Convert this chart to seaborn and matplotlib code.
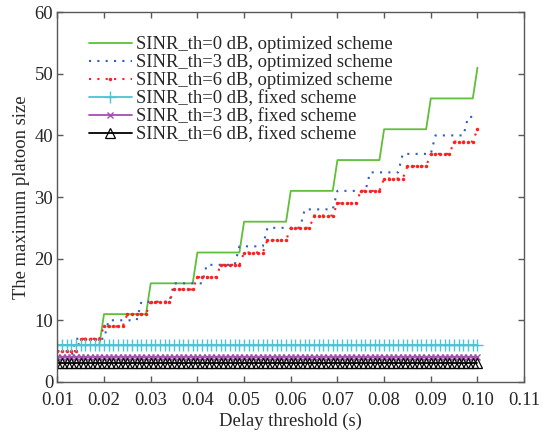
import numpy as np
import matplotlib
matplotlib.use("Agg")
import matplotlib.pyplot as plt
import seaborn as sns

# delay threshold samples (s), one every 1 ms
delay = np.round(np.arange(0.010, 0.1005, 0.001), 3)

opt_0db = [6, 6, 6, 6, 6, 6, 6, 6, 6, 6,
           11, 11, 11, 11, 11, 11, 11, 11, 11, 11,
           16, 16, 16, 16, 16, 16, 16, 16, 16, 16,
           21, 21, 21, 21, 21, 21, 21, 21, 21, 21,
           26, 26, 26, 26, 26, 26, 26, 26, 26, 26,
           31, 31, 31, 31, 31, 31, 31, 31, 31, 31,
           36, 36, 36, 36, 36, 36, 36, 36, 36, 36,
           41, 41, 41, 41, 41, 41, 41, 41, 41, 41,
           46, 46, 46, 46, 46, 46, 46, 46, 46, 46,
           51]

opt_3db = [4, 4, 4, 4, 7, 7, 7, 7, 7, 7,
           7, 10, 10, 10, 10, 10, 10, 10, 13, 13,
           13, 13, 13, 13, 13, 16, 16, 16, 16, 16,
           16, 16, 19, 19, 19, 19, 19, 19, 19, 22,
           22, 22, 22, 22, 22, 25, 25, 25, 25, 25,
           25, 25, 25, 28, 28, 28, 28, 28, 28, 28,
           31, 31, 31, 31, 31, 31, 31, 34, 34, 34,
           34, 34, 34, 34, 37, 37, 37, 37, 37, 37,
           37, 40, 40, 40, 40, 40, 40, 40, 43, 43,
           43]

opt_6db = [5, 5, 5, 5, 5, 7, 7, 7, 7, 7,
           9, 9, 9, 9, 9, 11, 11, 11, 11, 11,
           13, 13, 13, 13, 13, 15, 15, 15, 15, 15,
           17, 17, 17, 17, 17, 19, 19, 19, 19, 19,
           21, 21, 21, 21, 21, 23, 23, 23, 23, 23,
           25, 25, 25, 25, 25, 27, 27, 27, 27, 27,
           29, 29, 29, 29, 29, 31, 31, 31, 31, 31,
           33, 33, 33, 33, 33, 35, 35, 35, 35, 35,
           37, 37, 37, 37, 37, 39, 39, 39, 39, 39,
           41]

fixed_0db = [6] * 91
fixed_3db = [4] * 91
fixed_6db = [3] * 91

x_ticks = [0.01, 0.02, 0.03, 0.04, 0.05, 0.06, 0.07, 0.08, 0.09, 0.10, 0.11]
y_ticks = [0, 10, 20, 30, 40, 50, 60]

sns.set_theme(style="white")
plt.rcParams["font.family"] = ["Liberation Serif", "DejaVu Serif"]

fs = 13.4
fig, ax = plt.subplots(figsize=(5.46, 4.34), dpi=100)
fig.subplots_adjust(left=0.105, right=0.96, top=0.972, bottom=0.12)

sns.lineplot(x=delay, y=opt_0db, ax=ax, color="#5fbf3a", linewidth=1.3,
             label="SINR_th=0 dB, optimized scheme")
sns.lineplot(x=delay, y=opt_3db, ax=ax, color="#2f5fc4", linewidth=1.5,
             linestyle=(0, (1, 3)), label="SINR_th=3 dB, optimized scheme")
sns.lineplot(x=delay, y=opt_6db, ax=ax, color="#ff1f1f", linewidth=1.5,
             linestyle=(0, (1, 3)), marker=".", markersize=5,
             markeredgewidth=0, markeredgecolor="#ff1f1f",
             label="SINR_th=6 dB, optimized scheme")
sns.lineplot(x=delay, y=fixed_0db, ax=ax, color="#4cc4d4", linewidth=1.3,
             marker="+", markersize=8, markeredgewidth=1.0, markeredgecolor="#4cc4d4",
             label="SINR_th=0 dB, fixed scheme")
sns.lineplot(x=delay, y=fixed_3db, ax=ax, color="#a24fb0", linewidth=1.3,
             marker="x", markersize=5, markeredgewidth=1.0, markeredgecolor="#a24fb0",
             label="SINR_th=3 dB, fixed scheme")
sns.lineplot(x=delay, y=fixed_6db, ax=ax, color="black", linewidth=1.3,
             marker="^", markersize=6.5, markerfacecolor="none",
             markeredgewidth=0.9, markeredgecolor="black",
             label="SINR_th=6 dB, fixed scheme")

ax.set_xlim(0.01, 0.11)
ax.set_ylim(0, 60)
ax.set_xticks(x_ticks)
ax.set_xticklabels([f"{t:.2f}" for t in x_ticks])
ax.set_yticks(y_ticks)
ax.set_xlabel("Delay threshold (s)", fontsize=fs, labelpad=3)
ax.set_ylabel("The maximum platoon size", fontsize=fs, labelpad=3)
ax.tick_params(direction="in", length=4, width=1, color="#595959",
               labelcolor="#262626", labelsize=fs,
               bottom=True, left=True, top=True, right=True)
ax.tick_params(axis="x", pad=7)
ax.tick_params(axis="y", pad=3)
for sp in ax.spines.values():
    sp.set_color("#595959")
    sp.set_linewidth(1.0)

leg = ax.legend(loc="upper left", bbox_to_anchor=(0.044, 0.965), frameon=False,
                fontsize=fs, handlelength=2.3, handletextpad=0.25,
                labelspacing=0.05, borderaxespad=0.2)

fig.savefig("out.png", dpi=100)
